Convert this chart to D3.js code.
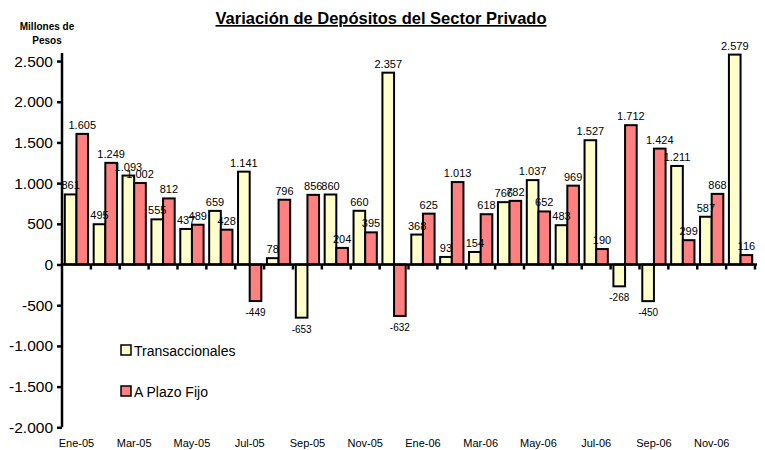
<!DOCTYPE html>
<html><head><meta charset="utf-8">
<script src="https://cdn.jsdelivr.net/npm/d3@7"></script>
<style>
html,body{margin:0;padding:0;background:#fff;}
text{font-family:"Liberation Sans",Arial,sans-serif;}
</style></head>
<body><svg id="c" width="765" height="450"></svg>
<script>
const months = ["Ene-05","Feb-05","Mar-05","Abr-05","May-05","Jun-05","Jul-05","Ago-05","Sep-05","Oct-05","Nov-05","Dic-05",
                "Ene-06","Feb-06","Mar-06","Abr-06","May-06","Jun-06","Jul-06","Ago-06","Sep-06","Oct-06","Nov-06","Dic-06"];
const transaccionales = [861,495,1093,555,437,659,1141,78,-653,860,660,2357,368,93,154,766,1037,483,1527,-268,-450,1211,587,2579];
const plazoFijo = [1605,1249,1002,812,489,428,-449,796,856,204,395,-632,625,1013,618,782,652,969,190,1712,1424,299,868,116];
const yTicks = [-2000,-1500,-1000,-500,0,500,1000,1500,2000,2500];
const seriesNames = ["Transaccionales","A Plazo Fijo"];
const colors = ["#FFFFCC","#FF8080"];

const fmt = v => { const s = Math.abs(v).toString(); const w = s.length>3 ? s.slice(0,s.length-3)+"."+s.slice(-3) : s; return (v<0?"-":"")+w; };

const svg = d3.select("#c");
const y = d3.scaleLinear().domain([-2000,2600]).range([427.3,52.9]);
const x0 = d3.scaleBand().domain(months).range([62,755]).padding(0);
const bw = x0.bandwidth();
const x1 = d3.scaleBand().domain([0,1]).range([2.8,bw-2.8]).padding(0);

// title
svg.append("text").attr("x",381).attr("y",24).attr("text-anchor","middle")
  .attr("font-size","16.5px").attr("font-weight","bold").attr("text-decoration","underline")
  .text("Variación de Depósitos del Sector Privado");
svg.append("text").attr("x",47).attr("y",30).attr("text-anchor","middle")
  .attr("font-size","10px").attr("font-weight","bold").text("Millones de");
svg.append("text").attr("x",47).attr("y",44).attr("text-anchor","middle")
  .attr("font-size","10px").attr("font-weight","bold").text("Pesos");

// y axis
const yAxis = d3.axisLeft(y).tickValues(yTicks).tickSize(5).tickPadding(4).tickFormat(fmt);
const ga = svg.append("g").attr("transform","translate(62,0)").call(yAxis);
ga.select(".domain").attr("stroke","#000").attr("stroke-width",2.5).attr("d",`M0,${y(2600)}V${y(-2000)}`);
ga.selectAll(".tick line").attr("stroke","#000").attr("stroke-width",2.5);
ga.selectAll(".tick text").attr("font-size","15.5px").attr("fill","#000").attr("font-family","Liberation Sans, Arial, sans-serif");

const data = months.map((m,i)=>({m, vals:[transaccionales[i], plazoFijo[i]]}));

const g = svg.append("g");
const groups = g.selectAll("g.m").data(data).join("g").attr("transform",d=>`translate(${x0(d.m)},0)`);
groups.selectAll("rect").data(d=>d.vals.map((v,k)=>({v,k}))).join("rect")
  .attr("x",d=>x1(d.k)).attr("width",x1.bandwidth())
  .attr("y",d=>y(Math.max(0,d.v))).attr("height",d=>Math.abs(y(d.v)-y(0)))
  .attr("fill",d=>colors[d.k]).attr("stroke","#000").attr("stroke-width",2);

// x axis line and ticks
svg.append("line").attr("x1",62).attr("x2",757).attr("y1",y(0)).attr("y2",y(0)).attr("stroke","#000").attr("stroke-width",2.5);
const bounds = months.map(m=>x0(m)+bw);
svg.selectAll("line.xt").data(bounds).join("line").attr("class","xt")
  .attr("x1",d=>d).attr("x2",d=>d).attr("y1",y(0)).attr("y2",y(0)+5).attr("stroke","#000").attr("stroke-width",2.5);

// labels
groups.selectAll("text").data(d=>d.vals.map((v,k)=>({v,k}))).join("text")
  .attr("x",d=>x1(d.k)+x1.bandwidth()/2)
  .attr("y",d=>d.v>=0 ? y(d.v)-5 : y(d.v)+15)
  .attr("text-anchor","middle").attr("font-size",d=>d.v>=0?"11px":"10px").attr("fill","#000")
  .text(d=>fmt(d.v));

// x labels
svg.selectAll("text.xl").data(months.filter((m,i)=>i%2===0)).join("text").attr("class","xl")
  .attr("x",d=>x0(d)+bw/2).attr("y",447).attr("text-anchor","middle").attr("font-size","11px").text(d=>d);

// legend
const leg = svg.append("g");
seriesNames.forEach((n,k)=>{
  const yy = 345 + k*41;
  leg.append("rect").attr("x",121).attr("y",yy).attr("width",10).attr("height",10)
    .attr("fill",colors[k]).attr("stroke","#000").attr("stroke-width",1.5);
  leg.append("text").attr("x",134).attr("y",yy+11).attr("font-size","14px").text(n);
});
</script></body></html>
